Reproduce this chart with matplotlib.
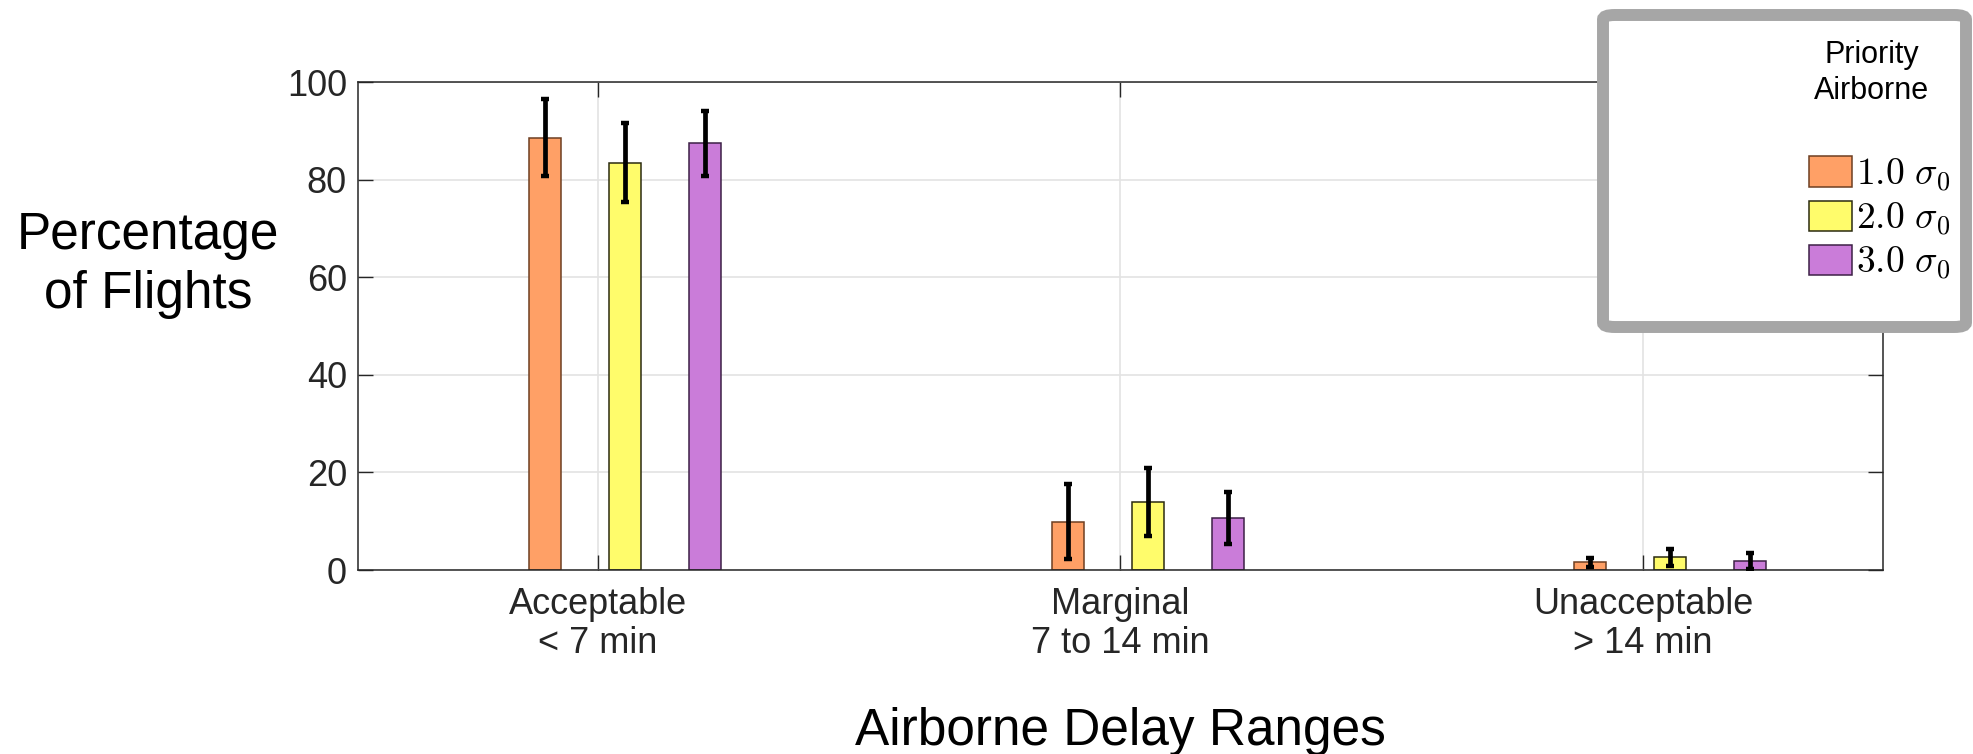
import numpy as np
import matplotlib
matplotlib.use('Agg')
import matplotlib.pyplot as plt
from matplotlib.patches import FancyBboxPatch

plt.rcParams['font.family'] = ['Liberation Sans', 'DejaVu Sans']
plt.rcParams['mathtext.fontset'] = 'cm'

# data
categories = ['Acceptable\n< 7 min', 'Marginal\n7 to 14 min', 'Unacceptable\n> 14 min']
seriesNames = [r'$1.0\ \sigma_0$', r'$2.0\ \sigma_0$', r'$3.0\ \sigma_0$']
pct1 = [88.6, 9.9, 1.6]
pct2 = [83.5, 14.0, 2.6]
pct3 = [87.4, 10.7, 1.9]
err1 = [7.9, 7.7, 0.9]
err2 = [8.1, 7.0, 1.8]
err3 = [6.6, 5.3, 1.6]
yTicks = [0, 20, 40, 60, 80, 100]

faceColors = ['#ffa066', '#fffc6b', '#ca7cd9']
edgeColors = ['#6e3f22', '#2b2b10', '#3d2046']
axColor = '#262626'

fig = plt.figure(figsize=(19.74, 7.54), dpi=100)
ax = fig.add_axes([358/1974, 1-570/754, (1883-358)/1974, (570-82)/754])

x = np.arange(1, len(categories)+1)
barWidth = 0.0612
groupShift = 0.052
offsets = [-0.153, 0, 0.153]

bars = []
for vals, errs, off, fc, ec, name in zip([pct1, pct2, pct3], [err1, err2, err3],
                                         offsets, faceColors, edgeColors, seriesNames):
	xs = x + groupShift + off
	b = ax.bar(xs, vals, barWidth, color=fc, edgecolor=ec, linewidth=1.1, label=name, zorder=2)
	ax.errorbar(xs, vals, yerr=errs, fmt='none', ecolor='k', elinewidth=3.4,
		capsize=3.2, capthick=3.2, zorder=3)
	bars.append(b)

ax.set_xlim([0.541, 3.459])
ax.set_ylim([0, 100])
ax.set_xticks(x)
ax.set_xticklabels(categories, fontsize=26, color=axColor, linespacing=1.15)
ax.set_yticks(yTicks)
ax.set_yticklabels([str(t) for t in yTicks], fontsize=26, color=axColor)
ax.tick_params(direction='in', top=True, right=True, length=11, width=1, color=axColor)
ax.tick_params(axis='x', pad=12)
ax.tick_params(axis='y', pad=8)
ax.grid(True, color='#e3e3e3', linewidth=1.2)
ax.set_axisbelow(True)
for s in ax.spines.values():
	s.set_color(axColor)
	s.set_linewidth(1.1)

fig.text(148/1974, 1-265/754, 'Percentage\nof Flights', fontsize=37, ha='center', va='center',
	multialignment='center', linespacing=1.26)
fig.text(1120/1974, 1-745/754, 'Airborne Delay Ranges', fontsize=37, ha='center', va='baseline')

# legend box
box = FancyBboxPatch((1603/1974, 1-327/754), (1966-1603)/1974, (327-15)/754,
	boxstyle='round,pad=0,rounding_size=0.006', transform=fig.transFigure,
	facecolor='white', edgecolor='#a6a6a6', linewidth=8.6, zorder=5)
fig.patches.append(box)
fig.text(1872/1974, 1-73/754, 'Priority\nAirborne', fontsize=22, ha='center', va='center',
	multialignment='center', linespacing=1.23, zorder=6)
leg = fig.legend(handles=bars, labels=seriesNames, loc='center left',
	bbox_to_anchor=(1809/1974, 1-219/754), frameon=False, fontsize=27,
	handlelength=1.15, handleheight=0.88, handletextpad=0.1, labelspacing=0.18,
	borderpad=0, borderaxespad=0)
leg.set_zorder(7)

fig.savefig('out.png', dpi=100)
